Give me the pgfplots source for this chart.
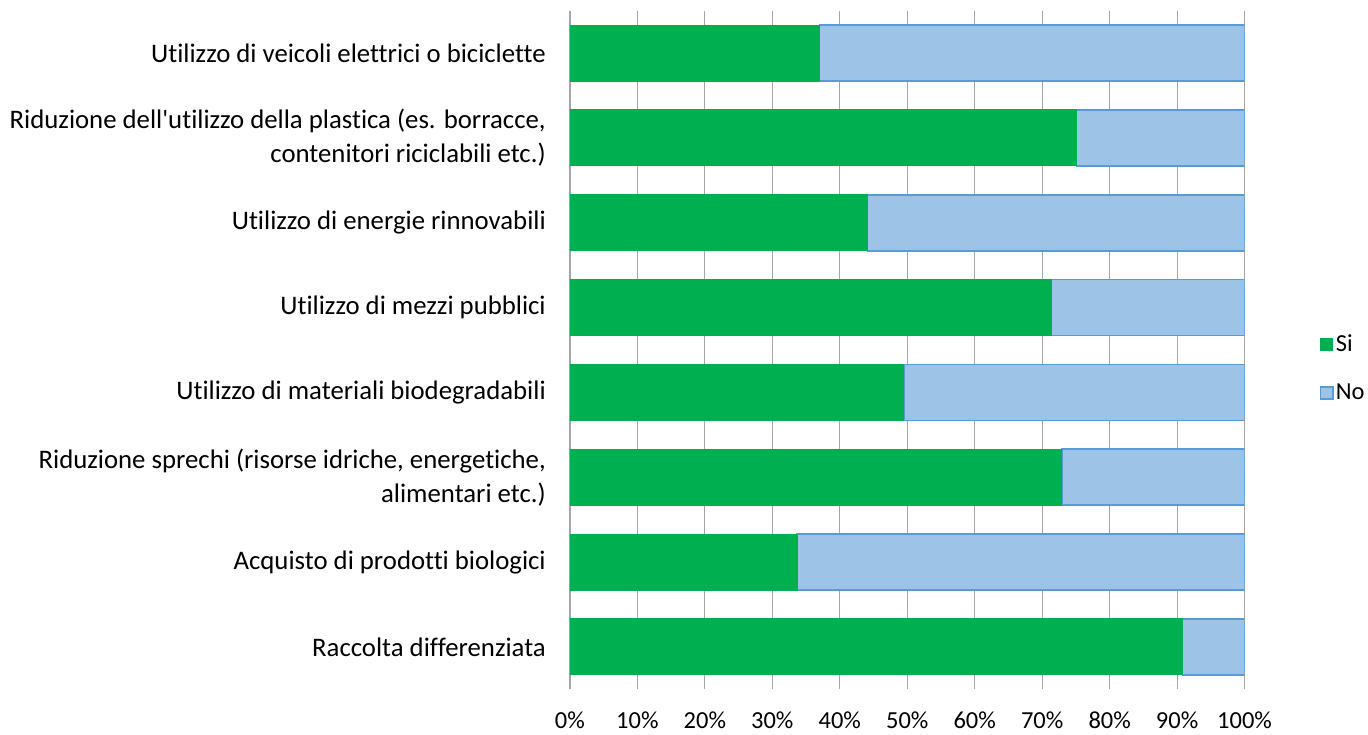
\documentclass[border={1.5pt 0pt 0.5pt 5pt}]{standalone}
\usepackage{pgfplots}
\pgfplotsset{compat=1.18}
\usepackage{fontspec}
\setmainfont{Carlito}[Ligatures={NoCommon}]
\definecolor{siGreen}{RGB}{0,176,80}
\definecolor{noFill}{RGB}{157,195,230}
\definecolor{noEdge}{RGB}{91,155,213}
\definecolor{gridGray}{RGB}{166,166,166}

\begin{document}
\begin{tikzpicture}
\begin{axis}[
    xbar stacked,
    width=336.5pt, height=338.5pt,
    scale only axis,
    xmin=0, xmax=100,
    ymin=-0.5, ymax=7.5,
    y dir=reverse,
    bar width=0.66,
    xtick={0,10,...,100},
    xticklabels={0\%,10\%,20\%,30\%,40\%,50\%,60\%,70\%,80\%,90\%,100\%},
    ytick={0,...,7},
    yticklabels={
        Utilizzo di veicoli elettrici o biciclette,
        {Riduzione dell\textquotesingle utilizzo della plastica (es. borracce,\\contenitori riciclabili etc.)},
        Utilizzo di energie rinnovabili,
        Utilizzo di mezzi pubblici,
        Utilizzo di materiali biodegradabili,
        {Riduzione sprechi (risorse idriche, energetiche,\\alimentari etc.)},
        Acquisto di prodotti biologici,
        Raccolta differenziata},
    yticklabel style={align=right, font=\fontsize{13.35}{17}\selectfont, xshift=-8.5pt},
    xticklabel style={font=\fontsize{12.2}{14}\selectfont, yshift=-7.5pt},
    major tick length=0pt,
    xmajorgrids,
    grid style={gridGray, line width=0.6pt},
    axis line style={draw=none},
    legend style={at={(1.111,0.473)}, anchor=west, draw=none, fill=none,
        font=\fontsize{12.2}{14}\selectfont, row sep=12.5pt, inner sep=0pt,
        nodes={inner xsep=1.2pt, inner ysep=1pt}},
    legend cell align=left,
    area legend,
    legend image code/.code={\draw[#1] (0pt,-3pt) rectangle (6pt,3pt);},
]
\addplot[fill=siGreen, draw=siGreen] coordinates {
    (37.0,0) (75.1,1) (44.1,2) (71.3,3) (49.5,4) (72.9,5) (33.7,6) (90.8,7)};
\addplot[fill=noFill, draw=noEdge, line width=0.8pt] coordinates {
    (63.0,0) (24.9,1) (55.9,2) (28.7,3) (50.5,4) (27.1,5) (66.3,6) (9.2,7)};
\legend{Si, No}
\end{axis}
\end{tikzpicture}
\end{document}
